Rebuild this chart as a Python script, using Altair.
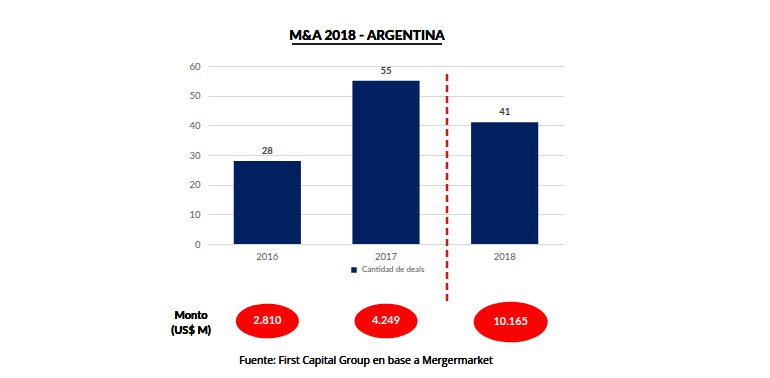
import altair as alt
import pandas as pd

years = ["2016", "2017", "2018"]
deals = [28, 55, 41]
montos = [2810, 4249, 10165]
series_name = "Cantidad de deals"
title_text = "M&A 2018 - ARGENTINA"
source_text = "Fuente: First Capital Group en base a Mergermarket"
monto_label = ["Monto", "(US$ M)"]
y_ticks = [0, 10, 20, 30, 40, 50, 60]

df = pd.DataFrame({
    "year": years,
    "deals": deals,
    "monto": [f"{m:,}".replace(",", ".") for m in montos],
    "serie": [series_name] * len(years),
})

FONT = "Lato"
W, H = 356, 178

x_enc = alt.X("year:N", sort=years,
              scale=alt.Scale(paddingInner=0.434, paddingOuter=0.217),
              axis=alt.Axis(title=None, labelAngle=0, ticks=False, domainColor="#d9d9d9",
                            labelColor="#595959", labelFont=FONT, labelFontSize=9.5,
                            labelPadding=7, grid=False))
y_enc = alt.Y("deals:Q", scale=alt.Scale(domain=[0, 60], nice=False),
              axis=alt.Axis(title=None, values=y_ticks, domain=False, labelOverlap=False,
                            ticks=False, gridColor="#d9d9d9", labelColor="#595959",
                            labelFont=FONT, labelFontSize=9.5, labelPadding=8))

base = alt.Chart(df)

bars = base.mark_bar(color="#002060").encode(
    x=x_enc,
    y=y_enc,
    color=alt.Color("serie:N", scale=alt.Scale(range=["#002060"]),
                    legend=alt.Legend(title=None, orient="none", legendX=142, legendY=200,
                                      symbolType="square", symbolSize=30,
                                      labelFont=FONT, labelFontSize=8, labelFontWeight="normal",
                                      labelColor="#595959", symbolStrokeWidth=0)),
)

labels = base.mark_text(font=FONT, fontSize=9.5, fontWeight="bold", color="#404040",
                        baseline="middle", dy=-10).encode(
    x=x_enc, y=y_enc, text="deals:Q")

ellipse_path = "M-1,0 A1,0.55 0 1,1 1,0 A1,0.55 0 1,1 -1,0 Z"
is_last = alt.datum.year == years[-1]

ellipses_a = base.transform_filter(~is_last).mark_point(
    shape=ellipse_path, filled=True, color="#ff0000", opacity=1, strokeWidth=0,
    size=3969).encode(x=x_enc, y=alt.value(255))
ellipses_b = base.transform_filter(is_last).mark_point(
    shape=ellipse_path, filled=True, color="#ff0000", opacity=1, strokeWidth=0,
    size=5476, xOffset=6).encode(x=x_enc, y=alt.value(256))

ell_text_a = base.transform_filter(~is_last).mark_text(
    font=FONT, fontSize=11, fontWeight="bold", color="white", baseline="middle").encode(
    x=x_enc, y=alt.value(255), text="monto:N")
ell_text_b = base.transform_filter(is_last).mark_text(
    font=FONT, fontSize=11, fontWeight="bold", color="white", baseline="middle",
    xOffset=6).encode(x=x_enc, y=alt.value(256), text="monto:N")

sep = base.mark_rule(color="#d01818", strokeWidth=2.2, strokeDash=[7, 4]).encode(
    x=alt.value(239), y=alt.value(8), y2=alt.value(239))

title = base.mark_text(text=title_text, font=FONT, fontSize=13.5, fontWeight="bold",
                       color="#000000", baseline="alphabetic").encode(
    x=alt.value(159), y=alt.value(-26))
underline = base.mark_rule(color="#000000", strokeWidth=1.2).encode(
    x=alt.value(84), x2=alt.value(234), y=alt.value(-22))

monto1 = base.mark_text(text=monto_label[0], font=FONT, fontSize=11, fontWeight="bold",
                        color="#000000", baseline="middle").encode(
    x=alt.value(-17), y=alt.value(250))
monto2 = base.mark_text(text=monto_label[1], font=FONT, fontSize=11, fontWeight="bold",
                        color="#000000", baseline="middle").encode(
    x=alt.value(-17), y=alt.value(265))

source = base.mark_text(text=source_text, font="Open Sans", fontSize=10.5, fontWeight=400,
                        color="#000000", baseline="middle").encode(
    x=alt.value(158), y=alt.value(295))

chart = alt.layer(bars, labels, sep, ellipses_a, ellipses_b, ell_text_a, ell_text_b,
                  title, underline, monto1, monto2, source).properties(
    width=W, height=H,
    autosize=alt.AutoSizeParams(type="none"),
    padding={"left": 200, "top": 58, "right": 196, "bottom": 124},
    background="white",
).configure_view(strokeWidth=0, stroke=None)

chart.save("out.html", embed_options={"renderer": "svg", "actions": False})
